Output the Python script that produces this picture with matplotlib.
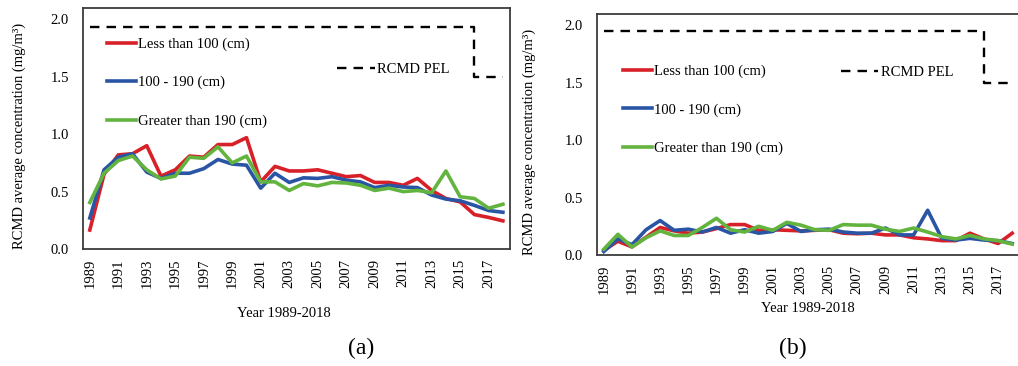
import matplotlib
matplotlib.use("Agg")
import matplotlib.pyplot as plt

plt.rcParams["font.family"] = ["Liberation Serif", "DejaVu Serif"]
plt.rcParams["font.size"] = 10.5

years = list(range(1989, 2019))
labels = ["Less than 100 (cm)", "100 - 190 (cm)", "Greater than 190 (cm)"]
colors = ["#d82028", "#2a55a5", "#62b43f"]

# panel (a)
a_less = [0.165, 0.65, 0.82, 0.83, 0.90, 0.635, 0.69, 0.81, 0.80, 0.91, 0.91, 0.97,
          0.585, 0.72, 0.68, 0.68, 0.69, 0.66, 0.63, 0.64, 0.58, 0.58, 0.555, 0.615,
          0.51, 0.44, 0.41, 0.30, 0.275, 0.245]
a_mid = [0.27, 0.69, 0.80, 0.83, 0.67, 0.615, 0.66, 0.66, 0.70, 0.78, 0.74, 0.73,
         0.53, 0.66, 0.58, 0.62, 0.615, 0.63, 0.60, 0.585, 0.535, 0.555, 0.54, 0.535,
         0.47, 0.435, 0.42, 0.38, 0.335, 0.32]
a_great = [0.405, 0.66, 0.77, 0.81, 0.69, 0.61, 0.635, 0.80, 0.79, 0.89, 0.75, 0.81,
           0.585, 0.585, 0.51, 0.57, 0.55, 0.58, 0.575, 0.555, 0.51, 0.53, 0.50, 0.51,
           0.49, 0.68, 0.455, 0.44, 0.355, 0.39]
a_pel = [1.93] * 27 + [1.5] * 3

# panel (b)
b_less = [0.04, 0.12, 0.07, 0.155, 0.24, 0.21, 0.19, 0.20, 0.23, 0.265, 0.265, 0.215,
          0.22, 0.215, 0.21, 0.215, 0.22, 0.19, 0.185, 0.19, 0.175, 0.175, 0.15, 0.14,
          0.125, 0.125, 0.19, 0.14, 0.10, 0.19]
b_mid = [0.03, 0.14, 0.09, 0.22, 0.30, 0.215, 0.225, 0.20, 0.24, 0.19, 0.22, 0.19,
         0.205, 0.275, 0.205, 0.22, 0.225, 0.20, 0.19, 0.19, 0.235, 0.175, 0.175, 0.39,
         0.145, 0.13, 0.145, 0.13, 0.125, 0.10]
b_great = [0.05, 0.18, 0.07, 0.15, 0.21, 0.17, 0.17, 0.24, 0.32, 0.22, 0.20, 0.25,
           0.215, 0.285, 0.26, 0.22, 0.215, 0.265, 0.26, 0.26, 0.225, 0.205, 0.235, 0.20,
           0.16, 0.14, 0.17, 0.14, 0.125, 0.095]
b_pel = [1.95] * 27 + [1.5] * 3


def panel(ax, series, pel, leg_xy, pel_xy, xlab_xy, ylab_x):
    lines = []
    for ys, lab, col in zip(series, labels, colors):
        ln, = ax.plot(years, ys, color=col, lw=2.6, label=lab)
        lines.append(ln)
    pl, = ax.plot(years, pel, "--", color="black", lw=1.7, drawstyle="steps-post",
                  dashes=(4, 3), label="RCMD PEL")
    ax.set_xlim(1988.5, 2018.5)
    ax.set_ylim(0, 2.1)
    ax.set_xticks(years[::2])
    ax.set_yticks([0, 0.5, 1.0, 1.5, 2.0])
    ax.set_yticklabels(["0.0", "0.5", "1.0", "1.5", "2.0"])
    ax.tick_params(axis="x", rotation=90, length=0, pad=7)
    ax.tick_params(axis="y", length=0, pad=10)
    for s in ax.spines.values():
        s.set_color("#3c3c3c")
        s.set_linewidth(1.3)
    leg = ax.legend(handles=lines, loc="upper left", bbox_to_anchor=leg_xy,
                    frameon=False, borderpad=0, borderaxespad=0, handlelength=2.0,
                    handletextpad=0.1, labelspacing=1.72)
    ax.add_artist(leg)
    ax.legend(handles=[pl], loc="upper left", bbox_to_anchor=pel_xy, frameon=False,
              borderpad=0, borderaxespad=0, handlelength=2.6, handletextpad=0.15)
    ax.set_xlabel("Year 1989-2018")
    ax.xaxis.set_label_coords(*xlab_xy)
    ax.set_ylabel("RCMD average concentration (mg/m³)")
    ax.yaxis.set_label_coords(ylab_x, 0.47)


fig = plt.figure(figsize=(10.18, 3.66), dpi=100)
ax1 = fig.add_axes([0.0812, 0.3197, 0.4198, 0.6585])
ax2 = fig.add_axes([0.5862, 0.3033, 0.4150, 0.6585])
panel(ax1, [a_less, a_mid, a_great], a_pel, (0.057, 0.878), (0.595, 0.772), (0.47, -0.241), -0.133)
panel(ax2, [b_less, b_mid, b_great], b_pel, (0.062, 0.79), (0.577, 0.785), (0.5, -0.195), -0.144)
fig.text(361 / 1018, 1 - 348 / 366, "(a)", fontsize=17, ha="center", va="center")
fig.text(793 / 1018, 1 - 348 / 366, "(b)", fontsize=17, ha="center", va="center")
fig.savefig("out.png", dpi=100)
